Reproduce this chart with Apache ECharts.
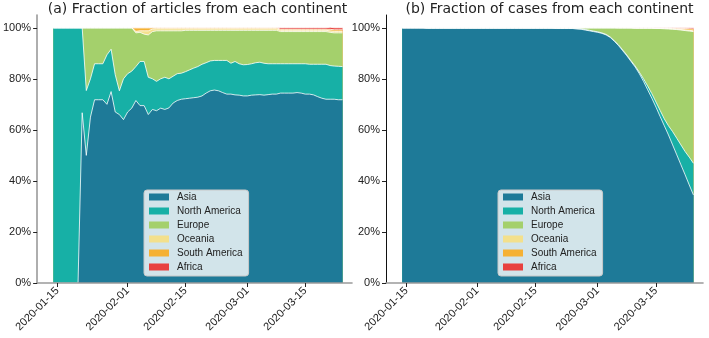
<!DOCTYPE html>
<html>
<head>
<meta charset="utf-8">
<script src="https://cdn.jsdelivr.net/npm/echarts@6/dist/echarts.min.js"></script>
<style>
html,body{margin:0;padding:0;background:#fff;}
#chart{width:709px;height:338px;}
</style>
</head>
<body>
<div id="chart"></div>
<script>
// ---- data ----
const dates = [
 '2020-01-14','2020-01-15','2020-01-16','2020-01-17','2020-01-18','2020-01-19','2020-01-20','2020-01-21','2020-01-22','2020-01-23',
 '2020-01-24','2020-01-25','2020-01-26','2020-01-27','2020-01-28','2020-01-29','2020-01-30','2020-01-31',
 '2020-02-01','2020-02-02','2020-02-03','2020-02-04','2020-02-05','2020-02-06','2020-02-07','2020-02-08','2020-02-09','2020-02-10',
 '2020-02-11','2020-02-12','2020-02-13','2020-02-14','2020-02-15','2020-02-16','2020-02-17','2020-02-18','2020-02-19','2020-02-20',
 '2020-02-21','2020-02-22','2020-02-23','2020-02-24','2020-02-25','2020-02-26','2020-02-27','2020-02-28','2020-02-29',
 '2020-03-01','2020-03-02','2020-03-03','2020-03-04','2020-03-05','2020-03-06','2020-03-07','2020-03-08','2020-03-09','2020-03-10',
 '2020-03-11','2020-03-12','2020-03-13','2020-03-14','2020-03-15','2020-03-16','2020-03-17','2020-03-18','2020-03-19','2020-03-20',
 '2020-03-21','2020-03-22','2020-03-23','2020-03-24'
];
const continents = ['Asia','North America','Europe','Oceania','South America','Africa'];
const xTickDates = ['2020-01-15','2020-02-01','2020-02-15','2020-03-01','2020-03-15'];
const yTicks = [0,0.2,0.4,0.6,0.8,1.0];
const titles = ['(a) Fraction of articles from each continent','(b) Fraction of cases from each continent'];

// (a) articles
const articleAsia = [0,0,0,0,0,0,0,
 0.667,0.50,0.65,0.718,0.718,0.718,0.70,0.75,0.67,0.66,
 0.64,0.67,0.685,0.715,0.695,0.695,0.66,0.68,0.675,0.685,
 0.68,0.686,0.705,0.715,0.72,0.722,0.724,0.726,0.728,0.733,
 0.744,0.753,0.756,0.753,0.746,0.74,0.74,0.737,0.736,0.733,
 0.733,0.736,0.737,0.738,0.736,0.738,0.74,0.74,0.744,0.744,
 0.744,0.744,0.746,0.744,0.74,0.74,0.737,0.73,0.724,0.72,
 0.72,0.72,0.718,0.718];
const articleNorthAmerica = [1,1,1,1,1,1,1,
 0.333,0.254,0.15,0.141,0.141,0.141,0.194,0.166,0.146,0.093,
 0.16,0.15,0.145,0.133,0.173,0.173,0.146,0.12,0.115,0.115,
 0.126,0.114,0.105,0.105,0.102,0.106,0.111,0.116,0.12,0.124,
 0.119,0.117,0.116,0.119,0.126,0.132,0.121,0.131,0.123,0.122,
 0.123,0.123,0.126,0.127,0.125,0.121,0.119,0.119,0.115,0.115,
 0.115,0.115,0.113,0.115,0.119,0.117,0.12,0.127,0.133,0.137,
 0.132,0.13,0.131,0.13];
const articleEurope = [0,0,0,0,0,0,0,
 0,0.246,0.20,0.141,0.141,0.141,0.106,0.084,0.184,0.247,
 0.20,0.18,0.17,0.132,0.114,0.107,0.166,0.185,0.198,0.188,
 0.182,0.188,0.178,0.168,0.166,0.162,0.155,0.148,0.142,0.133,
 0.127,0.12,0.118,0.118,0.118,0.118,0.129,0.122,0.131,0.135,
 0.134,0.131,0.127,0.125,0.129,0.131,0.131,0.131,0.126,0.126,
 0.126,0.126,0.126,0.126,0.126,0.128,0.128,0.128,0.128,0.128,
 0.13,0.13,0.131,0.132];
const articleOceania = [0,0,0,0,0,0,0,0,0,0,0,0,0,0,0,0,0,0,0,0,
 0.006,0.006,0.013,0.016,0.01,
 0.008,0.008,0.008,0.008,0.008,0.008,0.008,
 0.006,0.006,0.006,0.006,0.006,0.006,0.006,0.006,0.006,0.006,0.006,0.006,
 0.006,0.006,0.006,0.006,0.006,0.006,0.006,0.006,0.006,0.006,0.006,
 0.005,0.005,0.005,0.005,0.005,0.005,0.005,0.005,0.005,0.005,0.005,0.005,
 0.006,0.006,0.006,0.006];
const articleSouthAmerica = [0,0,0,0,0,0,0,0,0,0,0,0,0,0,0,0,0,0,0,0,
 0.014,0.012,0.012,0.012,0.005,
 0.004,0.004,0.004,0.004,0.004,0.004,0.004,
 0.004,0.004,0.004,0.004,0.004,0.004,0.004,0.004,0.004,0.004,0.004,0.004,
 0.004,0.004,0.004,0.004,0.004,0.004,0.004,0.004,0.004,0.004,0.004,
 0.004,0.004,0.004,0.004,0.004,0.004,0.004,0.004,0.004,0.004,0.004,0.004,
 0.006,0.006,0.006,0.006];
const articleAfrica = [0,0,0,0,0,0,0,0,0,0,0,0,0,0,0,0,0,0,0,0,
 0,0,0,0,0,0,0,0,0,0,0,0,0,0,0,0,0,0,0,0,
 0,0,0,0,0,0,0,0,0,0,0,0,0,0,0,
 0.006,0.006,0.006,0.006,0.006,0.006,0.006,0.006,0.006,0.006,0.006,0.006,
 0.008,0.008,0.008,0.008];

// (b) cases
const caseAsia = [1,1,1,1,1,1,
 0.998,0.998,0.998,0.998,0.998,0.998,0.998,0.998,0.998,0.998,
 0.998,0.998,0.998,0.998,0.998,0.998,0.998,0.998,0.998,0.998,
 0.998,0.998,0.998,0.998,0.998,0.998,0.998,0.998,0.998,0.998,0.998,
 0.997,0.997,0.997,0.997,0.997,
 0.995,0.994,0.991,0.988,0.985,0.982,0.978,0.972,0.962,0.947,
 0.93,0.91,0.89,0.868,0.846,0.82,0.79,0.757,0.724,0.689,
 0.652,0.616,0.58,0.541,0.502,0.463,0.424,0.384,0.345];
const caseNorthAmerica = [0,0,0,0,0,0,
 0.001,0.001,0.001,0.001,0.001,0.001,0.001,0.001,0.001,0.001,0.001,0.001,
 0.001,0.001,0.001,0.001,0.001,0.001,0.001,0.001,0.001,0.001,0.001,0.001,
 0.001,0.001,0.001,0.001,0.001,0.001,0.001,0.001,0.001,0.001,0.001,0.001,
 0.002,0.002,0.002,0.002,0.002,0.002,0.002,0.002,0.002,0.002,
 0.003,0.003,0.003,0.003,
 0.004,0.006,0.01,0.015,0.018,0.02,0.024,0.027,0.036,0.052,0.065,0.078,0.091,0.109,0.124];
const caseEurope = [0,0,0,0,0,0,
 0.001,0.001,0.001,0.001,0.001,0.001,0.001,0.001,0.001,0.001,
 0.001,0.001,0.001,0.001,0.001,0.001,0.001,0.001,0.001,0.001,
 0.001,0.001,0.001,0.001,0.001,0.001,0.001,0.001,0.001,0.001,0.001,
 0.002,0.002,0.002,0.002,0.002,
 0.003,0.004,0.007,0.01,0.013,0.016,0.02,0.026,0.036,0.051,
 0.066,0.086,0.106,0.128,
 0.148,0.172,0.198,0.226,0.256,0.288,0.321,0.353,0.379,0.401,0.426,0.45,0.474,0.494,0.516];
const caseOceania = [0,0,0,0,0,0,0,0,0,0,0,0,0,0,0,0,0,0,0,0,
 0,0,0,0,0,0,0,0,0,0,0,0,0,0,0,0,0,0,0,0,
 0,0,0,0,0,0,0,0,0,0,0,0,
 0.001,0.001,0.001,0.001,0.001,0.001,0.001,0.001,0.001,
 0.001,0.001,
 0.002,0.002,0.002,0.002,0.002,
 0.003,0.003,0.003];
const caseSouthAmerica = [0,0,0,0,0,0,0,0,0,0,0,0,0,0,0,0,0,0,0,0,
 0,0,0,0,0,0,0,0,0,0,0,0,0,0,0,0,0,0,0,0,
 0,0,0,0,0,0,0,0,0,0,0,0,0,0,0,0,
 0.0005,0.0005,0.0005,0.0005,0.0005,
 0.001,0.001,0.001,
 0.002,0.002,0.003,0.004,0.005,0.006,0.007];
const caseAfrica = [0,0,0,0,0,0,0,0,0,0,0,0,0,0,0,0,0,0,0,0,
 0,0,0,0,0,0,0,0,0,0,0,0,0,0,0,0,0,0,0,0,
 0,0,0,0,0,0,0,0,0,0,0,0,0,0,0,0,
 0.0005,0.0005,0.0005,0.0005,0.0005,
 0.001,0.001,0.001,
 0.001,0.002,0.002,0.003,0.003,0.004,0.005];

// ---- chart ----
const colors = ['#1e7a98','#17b0a6','#a4d06c','#f3e08c','#f5b134','#e8413f'];
const DAY = 86400000;
const baseT = Date.parse('2020-01-15');
const toDay = s => (Date.parse(s) - baseT) / DAY;
const xs = dates.map(toDay);
const xTickVals = xTickDates.map(toDay);
const fmtDate = v => new Date(baseT + Math.round(v) * DAY).toISOString().slice(0, 10);

const panels = [
  [articleAsia, articleNorthAmerica, articleEurope, articleOceania, articleSouthAmerica, articleAfrica],
  [caseAsia, caseNorthAmerica, caseEurope, caseOceania, caseSouthAmerica, caseAfrica]
];
const FONT = 'Liberation Sans, Arial, Helvetica, sans-serif';
const TITLE_FONT = 'DejaVu Sans, Liberation Sans, sans-serif';
const gridLeft = [33, 386], gridWidth = [319, 317];

// stacked areas: cumulative tops, drawn from the top layer down so each lower layer covers the rest
const series = [];
panels.forEach((sets, p) => {
  const cum = [];
  sets.forEach((vals, i) => {
    cum.push(vals.map((v, k) => (i ? cum[i - 1][k] : 0) + v));
  });
  for (let i = sets.length - 1; i >= 0; i--) {
    series.push({
      name: continents[i], type: 'line',
      xAxisIndex: p, yAxisIndex: p,
      data: cum[i].map((v, k) => [xs[k], v]),
      symbol: 'none', showSymbol: false, smooth: false,
      itemStyle: { color: colors[i] },
      lineStyle: { color: '#ffffff', width: 0.8 },
      areaStyle: { color: colors[i], opacity: 1, origin: 'start' },
      emphasis: { disabled: true },
      silent: true
    });
  }
});

const xAxis = [0, 1].map(p => ({
  type: 'value', gridIndex: p, min: -4.9, max: 71.3,
  axisLine: { show: true, onZero: false, lineStyle: { color: '#9a9a9a', width: 1.6 } },
  axisTick: { show: true, length: 4, lineStyle: { color: '#222', width: 1 }, customValues: xTickVals },
  axisLabel: { customValues: xTickVals, formatter: fmtDate, rotate: 45, fontSize: 11, fontFamily: FONT, color: '#222', margin: 6 },
  splitLine: { show: false },
  z: 5
}));
const yAxis = [0, 1].map(p => ({
  type: 'value', gridIndex: p, min: 0, max: 1.05,
  axisLine: { show: true, onZero: false, lineStyle: { color: p === 0 ? '#9a9a9a' : '#111', width: p === 0 ? 1.6 : 1 } },
  axisTick: { show: true, length: 4, lineStyle: { color: '#222', width: 1 }, customValues: yTicks },
  axisLabel: { customValues: yTicks, formatter: v => Math.round(v * 100) + '%', fontSize: 11, fontFamily: FONT, color: '#222', margin: 6 },
  splitLine: { show: false },
  z: 5
}));

const legend = [0, 1].map(p => ({
  data: continents, orient: 'vertical', left: p === 0 ? 144 : 498, top: 190,
  icon: 'rect', itemWidth: 20, itemHeight: 7, itemGap: 2,
  padding: [1, 6, 3, 5],
  backgroundColor: 'rgba(255,255,255,0.8)', borderColor: '#c8c8c8', borderWidth: 1, borderRadius: 3,
  itemStyle: { borderWidth: 0 },
  textStyle: { fontSize: 10, fontFamily: FONT, color: '#222', lineHeight: 12, padding: [0, 0, 0, 3] },
  selectedMode: false
}));

const chart = echarts.init(document.getElementById('chart'), null, { renderer: 'canvas' });
chart.setOption({
  animation: false,
  backgroundColor: '#ffffff',
  title: [0, 1].map(p => ({
    text: titles[p], left: gridLeft[p] + gridWidth[p] / 2, top: -3, textAlign: 'center',
    textStyle: { fontSize: 14, fontWeight: 'normal', fontFamily: TITLE_FONT, color: '#222' }
  })),
  grid: [0, 1].map(p => ({ left: gridLeft[p], width: gridWidth[p], top: 15, height: 268, containLabel: false })),
  xAxis, yAxis, legend, series
});
</script>
</body>
</html>
